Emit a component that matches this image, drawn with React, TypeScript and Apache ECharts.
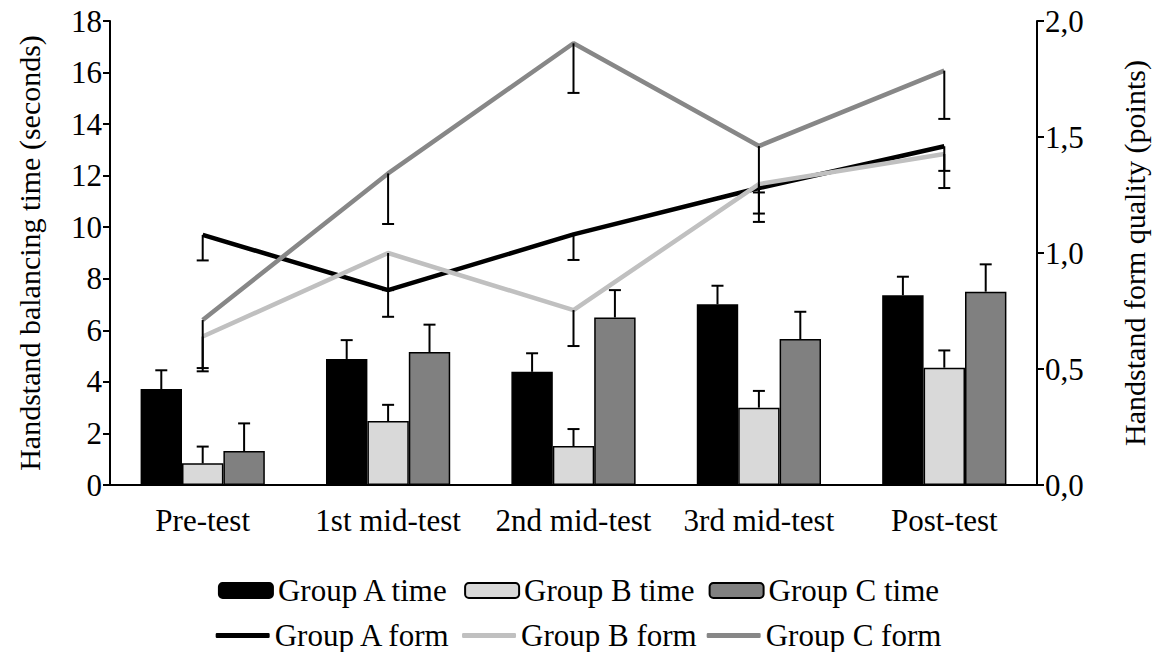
import React, { useEffect, useRef } from "react";
import * as echarts from "echarts";

const categories = ["Pre-test", "1st mid-test", "2nd mid-test", "3rd mid-test", "Post-test"];

const timeA = [3.72, 4.89, 4.39, 7.01, 7.36];
const timeB = [0.84, 2.48, 1.51, 3.0, 4.55];
const timeC = [1.32, 5.16, 6.5, 5.66, 7.5];
const timeErrA = [0.73, 0.73, 0.72, 0.72, 0.72];
const timeErrB = [0.65, 0.63, 0.66, 0.65, 0.67];
const timeErrC = [1.07, 1.06, 1.06, 1.06, 1.06];

const formA = [1.078, 0.84, 1.08, 1.28, 1.46];
const formB = [0.64, 1.0, 0.754, 1.297, 1.427];
const formC = [0.711, 1.343, 1.904, 1.461, 1.786];
const formErrA = [0.11, 0.115, 0.11, 0.11, 0.106];
const formErrB = [0.15, 0.16, 0.155, 0.163, 0.147];
const formErrC = [0.207, 0.218, 0.214, 0.2, 0.208];

const leftTicks = { min: 0, max: 18, interval: 2 };
const rightTicks = { min: 0, max: 2, interval: 0.5 };

const FONT = "Liberation Serif";
const FS = 31;
const GAP = 0.33;

export default function App() {
  const ref = useRef<HTMLDivElement>(null);
  useEffect(() => {
    if (!ref.current) return;
    const chart = echarts.init(ref.current, null, { renderer: "svg" });

    const barErr = (idx: number, vals: number[], errs: number[]) => ({
      type: "custom",
      xAxisIndex: 0,
      yAxisIndex: 0,
      z: 3,
      silent: true,
      encode: { x: 0, y: 1 },
      renderItem: (params: any, api: any) => {
        const ci = api.value(0);
        const v = api.value(1);
        const e = api.value(2);
        const band = api.size([1, 0])[0];
        const bw = (band * (1 - GAP)) / 3;
        const p0 = api.coord([ci, v]);
        const p1 = api.coord([ci, v + e]);
        const cx = p0[0] + (idx - 1) * bw;
        const st = { stroke: "#000", lineWidth: 2 };
        return {
          type: "group",
          children: [
            { type: "line", shape: { x1: cx, y1: p0[1], x2: cx, y2: p1[1] }, style: st },
            { type: "line", shape: { x1: cx - 6, y1: p1[1], x2: cx + 6, y2: p1[1] }, style: st },
          ],
        };
      },
      data: vals.map((v, i) => [i, v, errs[i]]),
    });

    const lineErr = (vals: number[], errs: number[]) => ({
      type: "custom",
      xAxisIndex: 0,
      yAxisIndex: 1,
      z: 5,
      silent: true,
      encode: { x: 0, y: 1 },
      renderItem: (params: any, api: any) => {
        const ci = api.value(0);
        const v = api.value(1);
        const e = api.value(2);
        const p0 = api.coord([ci, v]);
        const p1 = api.coord([ci, v - e]);
        const cx = p0[0];
        const st = { stroke: "#000", lineWidth: 2 };
        return {
          type: "group",
          children: [
            { type: "line", shape: { x1: cx, y1: p0[1], x2: cx, y2: p1[1] }, style: st },
            { type: "line", shape: { x1: cx - 6, y1: p1[1], x2: cx + 6, y2: p1[1] }, style: st },
          ],
        };
      },
      data: vals.map((v, i) => [i, v, errs[i]]),
    });

    const bar = (name: string, data: number[], color: string) => ({
      name,
      type: "bar",
      yAxisIndex: 0,
      data,
      barGap: "0%",
      barCategoryGap: "33%",
      z: 2,
      itemStyle: { color, borderColor: "#000", borderWidth: 1.5 },
    });

    const line = (name: string, data: number[], color: string, w: number) => ({
      name,
      type: "line",
      yAxisIndex: 1,
      data,
      symbol: "none",
      showSymbol: false,
      z: 4,
      lineStyle: { color, width: w },
      itemStyle: { color },
    });

    const ts = (size = FS) => ({ fontFamily: FONT, fontSize: size, color: "#000" });

    chart.setOption({
      animation: false,
      textStyle: { fontFamily: FONT, fontSize: FS },
      grid: { left: 110, right: 118, top: 21, bottom: 167 },
      legend: [
        {
          data: ["Group A time", "Group B time", "Group C time"],
          top: 570,
          left: "center",
          itemWidth: 54,
          itemHeight: 15,
          itemGap: 14,
          textStyle: ts(),
        },
        {
          data: ["Group A form", "Group B form", "Group C form"].map((n) => ({ name: n, icon: "roundRect" })),
          top: 615,
          left: "center",
          itemWidth: 54,
          itemHeight: 5,
          itemGap: 10,
          itemStyle: { borderWidth: 0 },
          textStyle: ts(),
        },
      ],
      xAxis: {
        type: "category",
        data: categories,
        axisTick: { show: false },
        axisLine: { show: true, lineStyle: { color: "#000", width: 2 } },
        axisLabel: { ...ts(), margin: 20, interval: 0 },
      },
      yAxis: [
        {
          type: "value",
          ...leftTicks,
          name: "Handstand balancing time (seconds)",
          nameLocation: "middle",
          nameRotate: 90,
          nameGap: 66,
          nameTextStyle: ts(30),
          axisLine: { show: true, lineStyle: { color: "#000", width: 2 } },
          axisTick: { show: true, length: 7, lineStyle: { color: "#000", width: 2 } },
          splitLine: { show: false },
          axisLabel: { ...ts(), margin: 8 },
        },
        {
          type: "value",
          ...rightTicks,
          position: "right",
          name: "Handstand form quality (points)",
          nameLocation: "middle",
          nameRotate: 90,
          nameGap: 82,
          nameTextStyle: ts(30),
          axisLine: { show: true, lineStyle: { color: "#000", width: 2 } },
          axisTick: { show: true, length: 7, lineStyle: { color: "#000", width: 2 } },
          splitLine: { show: false },
          axisLabel: {
            ...ts(),
            margin: 8,
            formatter: (v: number) => v.toFixed(1).replace(".", ","),
          },
        },
      ],
      series: [
        bar("Group A time", timeA, "#000000"),
        bar("Group B time", timeB, "#d9d9d9"),
        bar("Group C time", timeC, "#808080"),
        barErr(0, timeA, timeErrA),
        barErr(1, timeB, timeErrB),
        barErr(2, timeC, timeErrC),
        line("Group A form", formA, "#000000", 4.5),
        line("Group B form", formB, "#c0c0c0", 4.5),
        line("Group C form", formC, "#878787", 4.5),
        lineErr(formA, formErrA),
        lineErr(formB, formErrB),
        lineErr(formC, formErrC),
      ],
    });
    return () => chart.dispose();
  }, []);
  return (
    <>
      <style>{"svg text { font-family: 'Liberation Serif', 'Times New Roman', serif !important; }"}</style>
      <div
        ref={ref}
        style={{ position: "absolute", left: 0, top: 0, width: 1157, height: 652, background: "#fff" }}
      />
    </>
  );
}
